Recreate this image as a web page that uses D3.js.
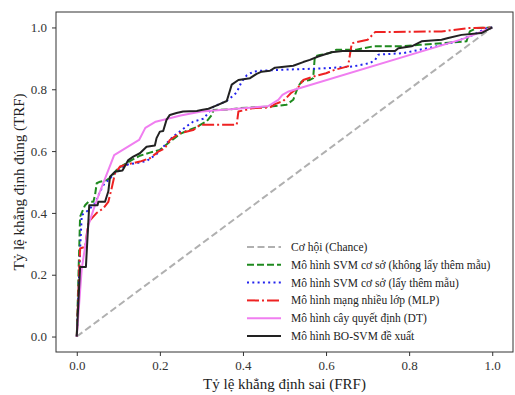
<!DOCTYPE html>
<html>
<head>
<meta charset="utf-8">
<script src="https://cdn.jsdelivr.net/npm/d3@7"></script>
<style>
  body { margin: 0; background: #fff; }
  text { font-family: "Liberation Serif", "DejaVu Serif", serif; }
</style>
</head>
<body>
<svg id="chart" width="515" height="395"></svg>
<script>
// ROC curves, values (FRF, TRF pairs)
const chanceX = [0, 1];
const chanceY = [0, 1];

const svmX = [0, 0.008, 0.02, 0.028, 0.04, 0.044, 0.048, 0.056, 0.072, 0.084, 0.096, 0.112, 0.132, 0.152, 0.176, 0.2, 0.224, 0.248, 0.264, 0.289, 0.313, 0.325, 0.329, 0.369, 0.393, 0.465, 0.505, 0.521, 0.533, 0.541, 0.561, 0.569, 0.573, 0.585, 0.609, 0.625, 0.673, 0.714, 0.778, 0.826, 0.938, 0.946, 0.962, 1];
const svmY = [0, 0.388, 0.425, 0.436, 0.436, 0.458, 0.496, 0.501, 0.506, 0.517, 0.539, 0.555, 0.571, 0.585, 0.595, 0.604, 0.63, 0.655, 0.665, 0.678, 0.697, 0.717, 0.733, 0.735, 0.739, 0.744, 0.75, 0.766, 0.809, 0.825, 0.83, 0.836, 0.906, 0.911, 0.917, 0.928, 0.928, 0.939, 0.939, 0.944, 0.955, 0.987, 0.998, 1];

const svmOsX = [0, 0.008, 0.012, 0.028, 0.044, 0.056, 0.064, 0.076, 0.088, 0.104, 0.124, 0.144, 0.168, 0.192, 0.216, 0.232, 0.264, 0.28, 0.305, 0.329, 0.349, 0.365, 0.385, 0.397, 0.409, 0.425, 0.441, 0.489, 0.601, 0.666, 0.706, 0.718, 0.726, 0.786, 0.826, 0.866, 0.914, 0.954, 0.987, 1];
const svmOsY = [0, 0.28, 0.393, 0.409, 0.431, 0.469, 0.49, 0.506, 0.523, 0.545, 0.557, 0.561, 0.568, 0.59, 0.625, 0.647, 0.68, 0.695, 0.705, 0.744, 0.755, 0.766, 0.79, 0.825, 0.845, 0.857, 0.86, 0.863, 0.868, 0.874, 0.885, 0.895, 0.912, 0.917, 0.928, 0.939, 0.955, 0.976, 0.998, 1];

const mlpX = [0, 0.008, 0.02, 0.028, 0.048, 0.064, 0.076, 0.084, 0.092, 0.104, 0.124, 0.152, 0.176, 0.196, 0.212, 0.224, 0.248, 0.28, 0.297, 0.385, 0.389, 0.425, 0.465, 0.477, 0.497, 0.515, 0.533, 0.545, 0.569, 0.6, 0.621, 0.653, 0.662, 0.7, 0.718, 0.878, 0.942, 1];
const mlpY = [0, 0.285, 0.29, 0.37, 0.4, 0.415, 0.436, 0.48, 0.528, 0.55, 0.558, 0.566, 0.577, 0.598, 0.609, 0.636, 0.658, 0.668, 0.685, 0.685, 0.728, 0.739, 0.741, 0.752, 0.762, 0.787, 0.806, 0.83, 0.841, 0.852, 0.863, 0.874, 0.949, 0.96, 0.985, 0.987, 0.998, 1];

const dtX = [0, 0.012, 0.028, 0.04, 0.056, 0.09, 0.15, 0.165, 0.19, 0.25, 0.3, 0.46, 0.485, 0.495, 0.51, 0.93, 1];
const dtY = [0, 0.22, 0.36, 0.41, 0.47, 0.587, 0.636, 0.675, 0.695, 0.715, 0.728, 0.745, 0.766, 0.782, 0.793, 0.963, 1];

const boX = [0, 0.008, 0.022, 0.03, 0.05, 0.052, 0.068, 0.076, 0.08, 0.092, 0.11, 0.124, 0.136, 0.152, 0.168, 0.188, 0.192, 0.2, 0.208, 0.216, 0.224, 0.24, 0.256, 0.289, 0.3, 0.317, 0.337, 0.361, 0.373, 0.389, 0.417, 0.433, 0.445, 0.465, 0.477, 0.521, 0.545, 0.561, 0.581, 0.613, 0.64, 0.766, 0.774, 0.806, 0.83, 0.878, 0.894, 0.926, 0.974, 1];
const boY = [0, 0.225, 0.225, 0.425, 0.425, 0.436, 0.436, 0.47, 0.517, 0.533, 0.537, 0.571, 0.582, 0.593, 0.614, 0.618, 0.642, 0.663, 0.665, 0.701, 0.717, 0.723, 0.728, 0.73, 0.733, 0.737, 0.748, 0.762, 0.815, 0.83, 0.836, 0.85, 0.857, 0.86, 0.87, 0.876, 0.888, 0.895, 0.906, 0.92, 0.924, 0.924, 0.933, 0.939, 0.955, 0.96, 0.966, 0.976, 0.982, 1];

const seriesNames = [
  "Cơ hội (Chance)",
  "Mô hình SVM cơ sở (không lấy thêm mẫu)",
  "Mô hình SVM cơ sở (lấy thêm mẫu)",
  "Mô hình mạng nhiều lớp (MLP)",
  "Mô hình cây quyết định (DT)",
  "Mô hình BO-SVM đề xuất"
];
const ticks = [0, 0.2, 0.4, 0.6, 0.8, 1.0];

const series = [
  { name: seriesNames[0], xs: chanceX, ys: chanceY, color: "#b0b0b0", dash: "7,3.5", width: 2 },
  { name: seriesNames[1], xs: svmX, ys: svmY, color: "#1f8a1f", dash: "7,3", width: 2 },
  { name: seriesNames[2], xs: svmOsX, ys: svmOsY, color: "#2222ee", dash: "2,3.3", width: 2 },
  { name: seriesNames[3], xs: mlpX, ys: mlpY, color: "#ee2222", dash: "12,3,2,3", width: 2 },
  { name: seriesNames[4], xs: dtX, ys: dtY, color: "#f07ef0", dash: null, width: 2 },
  { name: seriesNames[5], xs: boX, ys: boY, color: "#222222", dash: null, width: 2 }
];

const svg = d3.select('#chart');
const m = { left: 56, top: 12, right: 513, bottom: 352 };

const x = d3.scaleLinear().domain([-0.05, 1.05]).range([m.left, m.right]);
const y = d3.scaleLinear().domain([-0.05, 1.05]).range([m.bottom, m.top]);

// axes
svg.append('g')
  .attr('transform', `translate(0,${m.bottom})`)
  .call(d3.axisBottom(x).tickValues(ticks).tickFormat(d3.format('.1f')).tickSize(4).tickPadding(5))
  .call(g => g.select('.domain').remove())
  .call(g => g.selectAll('text').attr('font-size', 13).attr('fill', '#333'))
  .call(g => g.selectAll('line').attr('stroke', '#333'));

svg.append('g')
  .attr('transform', `translate(${m.left},0)`)
  .call(d3.axisLeft(y).tickValues(ticks).tickFormat(d3.format('.1f')).tickSize(4).tickPadding(5))
  .call(g => g.select('.domain').remove())
  .call(g => g.selectAll('text').attr('font-size', 13).attr('fill', '#333'))
  .call(g => g.selectAll('line').attr('stroke', '#333'));

// curves
const line = d3.line().x(d => x(d[0])).y(d => y(d[1]));
const plot = svg.append('g');
series.forEach(s => {
  plot.append('path')
    .datum(s.xs.map((v, i) => [v, s.ys[i]]))
    .attr('d', line)
    .attr('fill', 'none')
    .attr('stroke', s.color)
    .attr('stroke-width', s.width)
    .attr('stroke-dasharray', s.dash)
    .attr('stroke-linejoin', 'round');
});

// frame
svg.append('rect')
  .attr('x', m.left).attr('y', m.top)
  .attr('width', m.right - m.left).attr('height', m.bottom - m.top)
  .attr('fill', 'none').attr('stroke', '#333').attr('stroke-width', 1);

// labels
svg.append('text')
  .attr('x', (m.left + m.right) / 2).attr('y', 389)
  .attr('text-anchor', 'middle').attr('font-size', 15).attr('fill', '#222')
  .text('Tỷ lệ khẳng định sai (FRF)');

svg.append('text')
  .attr('transform', `translate(24,${(m.top + m.bottom) / 2}) rotate(-90)`)
  .attr('text-anchor', 'middle').attr('font-size', 15).attr('fill', '#222')
  .text('Tỷ lệ khẳng định đúng (TRF)');

// legend
const legend = svg.append('g').attr('transform', 'translate(247,247)');
series.forEach((s, i) => {
  const row = legend.append('g').attr('transform', `translate(0,${i * 17.8})`);
  row.append('line')
    .attr('x1', 0).attr('x2', 34).attr('y1', 0).attr('y2', 0)
    .attr('stroke', s.color).attr('stroke-width', s.width)
    .attr('stroke-dasharray', s.dash);
  row.append('text')
    .attr('x', 44).attr('y', 4)
    .attr('font-size', 11.5).attr('fill', '#222')
    .text(s.name);
});
</script>
</body>
</html>
